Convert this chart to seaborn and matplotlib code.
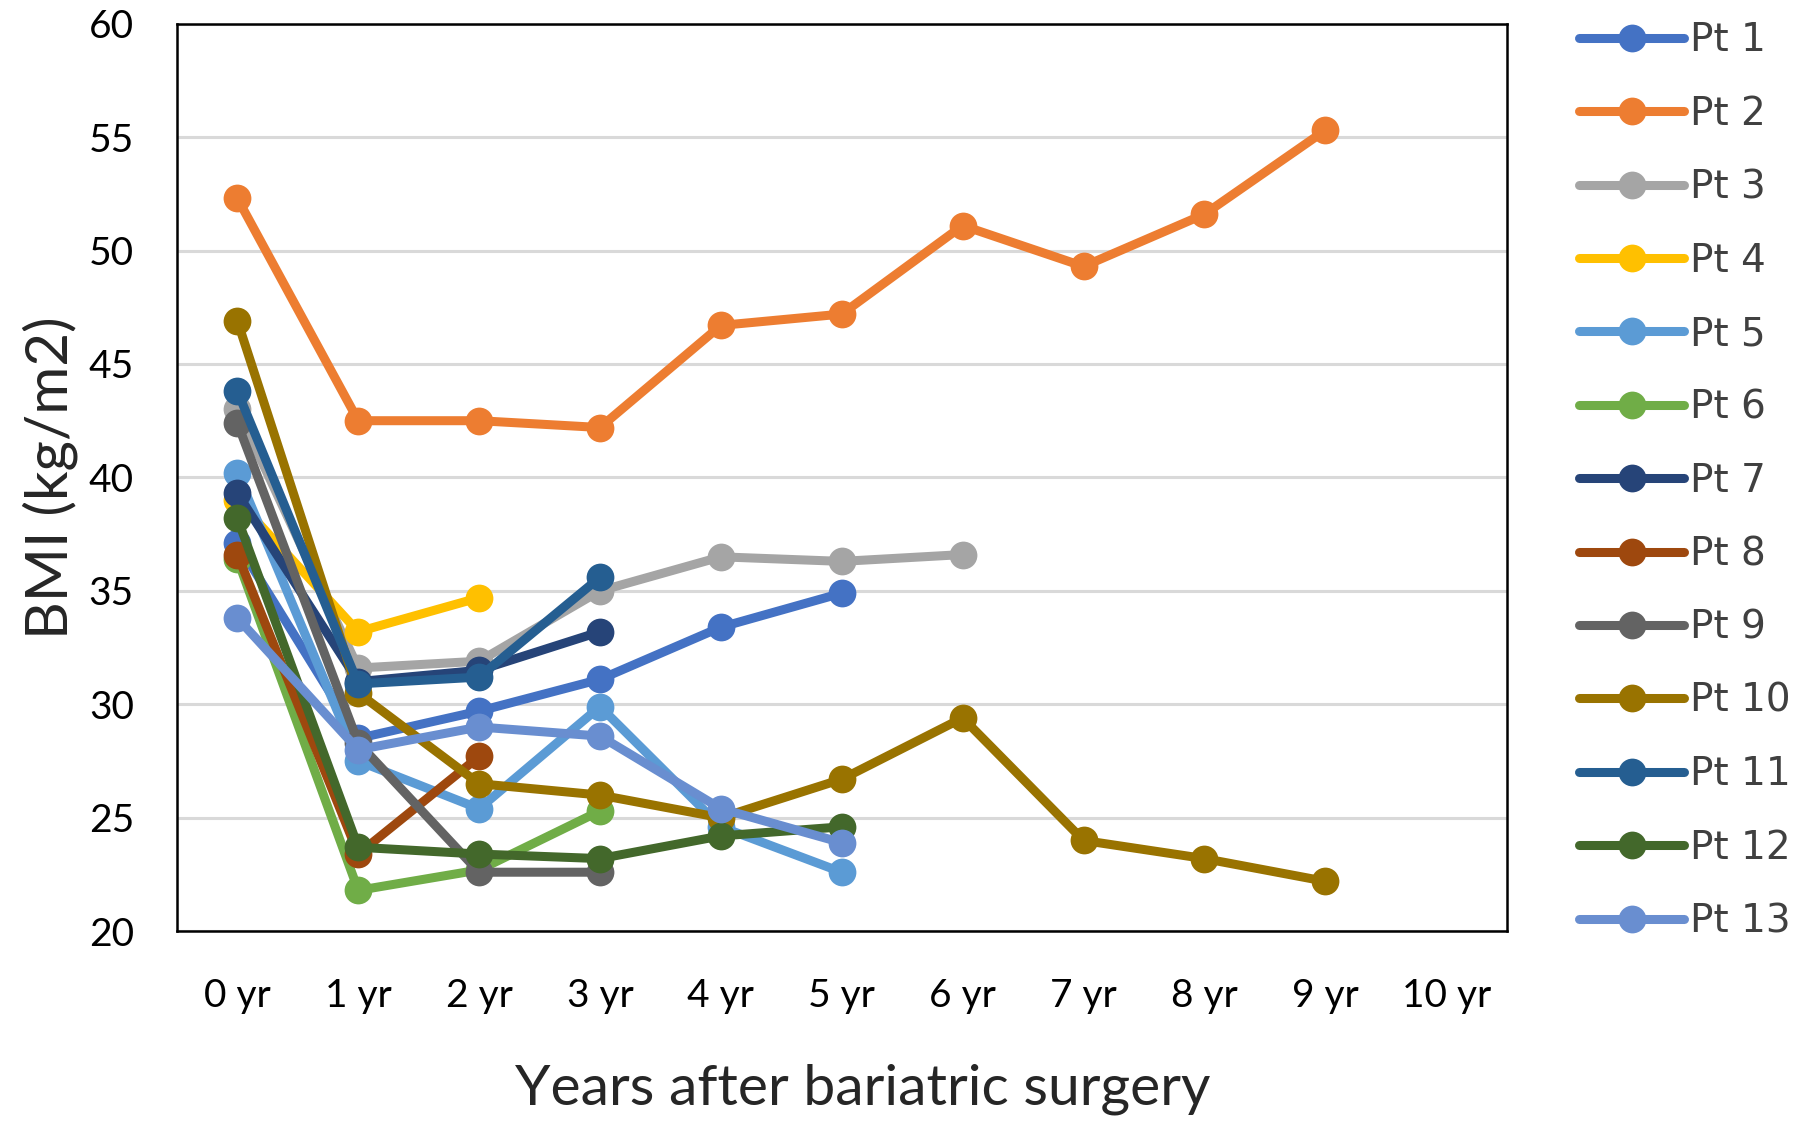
import numpy as np
import pandas as pd
import matplotlib
matplotlib.use("Agg")
import matplotlib.pyplot as plt
import seaborn as sns

years = ["0 yr", "1 yr", "2 yr", "3 yr", "4 yr", "5 yr", "6 yr", "7 yr", "8 yr", "9 yr", "10 yr"]
patients = [f"Pt {i}" for i in range(1, 14)]

pt1 = [37.1, 28.5, 29.7, 31.1, 33.4, 34.9]
pt2 = [52.3, 42.5, 42.5, 42.2, 46.7, 47.2, 51.1, 49.3, 51.6, 55.3]
pt3 = [43.0, 31.6, 31.9, 35.0, 36.5, 36.3, 36.6]
pt4 = [39.0, 33.2, 34.7]
pt5 = [40.2, 27.5, 25.4, 29.9, 24.6, 22.6]
pt6 = [36.4, 21.8, 22.7, 25.3]
pt7 = [39.3, 31.0, 31.5, 33.2]
pt8 = [36.6, 23.4, 27.7]
pt9 = [42.4, 28.3, 22.6, 22.6]
pt10 = [46.9, 30.5, 26.5, 26.0, 25.0, 26.7, 29.4, 24.0, 23.2, 22.2]
pt11 = [43.8, 30.9, 31.2, 35.6]
pt12 = [38.2, 23.7, 23.4, 23.2, 24.2, 24.6]
pt13 = [33.8, 28.0, 29.0, 28.6, 25.4, 23.9]
series = [pt1, pt2, pt3, pt4, pt5, pt6, pt7, pt8, pt9, pt10, pt11, pt12, pt13]

colors = ["#4472C4", "#ED7D31", "#A5A5A5", "#FFC000", "#5B9BD5", "#70AD47",
          "#264478", "#9E480E", "#636363", "#997300", "#255E91", "#43682B", "#698ED0"]

rows = []
for name, vals in zip(patients, series):
    for i, v in enumerate(vals):
        rows.append({"patient": name, "year": i, "bmi": v})
df = pd.DataFrame(rows)

sns.set_style("white")
plt.rcParams["font.family"] = ["Lato", "DejaVu Sans"]

fig = plt.figure(figsize=(18, 11.26), dpi=100)
ax = fig.add_axes([0.0983, 0.173, 0.7387, 0.806])

for name, col in zip(patients, colors):
    sub = df[df["patient"] == name]
    sns.lineplot(data=sub, x="year", y="bmi", color=col, marker="o",
                 markersize=20, markeredgewidth=0, linewidth=6.5,
                 ax=ax, zorder=3, legend=False)

ax.set_xlim(-0.5, 10.5)
ax.set_ylim(20, 60)
ax.set_xticks(range(len(years)))
ax.set_xticklabels(years)
ax.set_yticks(range(20, 61, 5))
ax.yaxis.grid(True, color="#D9D9D9", linewidth=2.2, zorder=0)
ax.xaxis.grid(False)
ax.set_axisbelow(True)
for s in ax.spines.values():
    s.set_color("black")
    s.set_linewidth(1.8)
ax.tick_params(axis="both", which="both", length=0, labelsize=28, colors="black")
ax.tick_params(axis="x", pad=34)
ax.tick_params(axis="y", pad=31)
ax.set_xlabel("Years after bariatric surgery", fontsize=41, labelpad=35, x=0.5156)
ax.set_ylabel("BMI (kg/m2)", fontsize=42, labelpad=8)

handles = [plt.Line2D([0], [0], color=c, linewidth=6.5, marker="o",
                      markersize=20, markeredgewidth=0) for c in colors]
leg = fig.legend(handles, patients, loc="upper left", bbox_to_anchor=(0.858, 1.012),
                 frameon=False, handlelength=2.7, handletextpad=0.15,
                 labelspacing=0.91, prop={"family": "DejaVu Sans", "size": 28})
for t in leg.get_texts():
    t.set_color("#404040")

fig.savefig("out.png", dpi=100)
